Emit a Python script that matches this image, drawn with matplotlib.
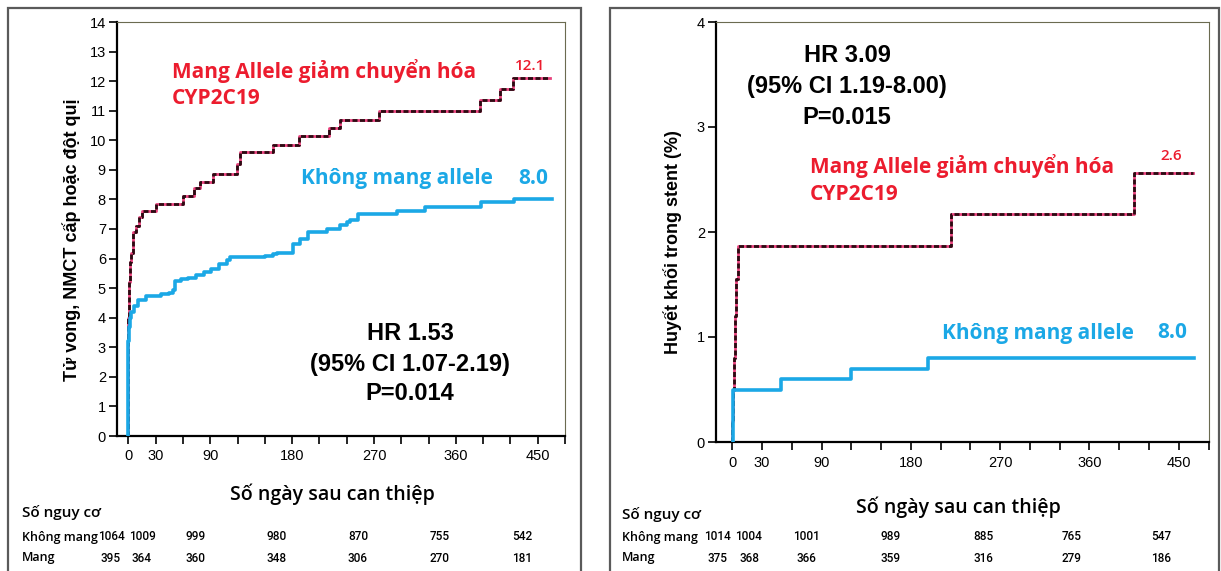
import matplotlib
matplotlib.use('Agg')
import matplotlib.pyplot as plt
from matplotlib.patches import Rectangle

W, H = 1221, 571

# ---- data: left panel (death / MI / stroke, %) ----
l_red_days = [0, 0.5, 1.5, 3, 5, 8, 12, 15, 30, 60, 72, 79, 93, 119, 123, 159, 188,
              220, 233, 275, 387, 408, 423, 463]
l_red_vals = [4.0, 5.2, 5.9, 6.2, 6.9, 7.1, 7.4, 7.6, 7.85, 8.1, 8.4, 8.6, 8.85, 9.2,
              9.6, 9.85, 10.15, 10.4, 10.7, 11.0, 11.35, 11.75, 12.1, 12.1]
l_blue_days = [0, 0.5, 1.5, 3, 6, 11, 19, 36, 45, 49, 51, 58, 66, 74, 83, 91, 100, 108,
               112, 150, 159, 163, 181, 189, 197, 218, 233, 240, 244, 252, 295, 326,
               388, 424, 466]
l_blue_vals = [3.2, 3.7, 4.0, 4.2, 4.4, 4.6, 4.75, 4.8, 4.85, 4.95, 5.25, 5.3, 5.35,
               5.45, 5.55, 5.65, 5.8, 5.95, 6.05, 6.1, 6.15, 6.2, 6.5, 6.65, 6.9, 7.0,
               7.15, 7.25, 7.3, 7.5, 7.62, 7.75, 7.9, 8.0, 8.0]

# ---- data: right panel (stent thrombosis, %) ----
r_red_days = [0, 1, 2, 3, 4, 6, 220, 405, 464]
r_red_vals = [0.2, 0.5, 0.8, 1.2, 1.55, 1.87, 2.17, 2.56, 2.56]
r_blue_days = [1, 49, 120, 197, 465]
r_blue_vals = [0.5, 0.6, 0.7, 0.8, 0.8]

tick_days = list(range(0, 481, 30))
label_days = [0, 30, 90, 180, 270, 360, 450]

l_risk_non = ['1064', '1009', '999', '980', '870', '755', '542']
l_risk_car = ['395', '364', '360', '348', '306', '270', '181']
r_risk_non = ['1014', '1004', '1001', '989', '885', '765', '547']
r_risk_car = ['375', '368', '366', '359', '316', '279', '186']

RED_TXT = '#ec1c2e'
BLUE = '#1ba8e6'
PINK = '#e8417c'
DARK = '#2b0b12'


def fx(px):
    return px / W


def fy(py):
    return 1 - py / H


def step_line(ax, days, vals, start_zero=True, dashed=False):
    xs = [days[0]] + list(days) if start_zero else list(days)
    ys = [0] + list(vals) if start_zero else list(vals)
    if dashed:
        ax.step(xs, ys, where='post', color=PINK, lw=2.0, zorder=3)
        ax.step(xs, ys, where='post', color=DARK, lw=2.0, dashes=(1.8, 0.9), zorder=4)
    else:
        ax.step(xs, ys, where='post', color=BLUE, lw=2.6, zorder=5)


def style_axes(ax, ymax, xpad):
    ax.set_ylim(0, ymax)
    ax.set_xticks(tick_days)
    ax.set_xticklabels([str(d) if d in label_days else '' for d in tick_days])
    ax.set_yticks(range(0, ymax + 1))
    ax.tick_params(axis='both', direction='out', length=6, width=1.2, color='black',
                   labelsize=10.5)
    ax.tick_params(axis='x', pad=xpad)
    ax.tick_params(axis='y', pad=2)
    for s in ['left', 'bottom']:
        ax.spines[s].set_linewidth(1.6)
        ax.spines[s].set_color('black')
    for s in ['top', 'right']:
        ax.spines[s].set_linewidth(0.8)
        ax.spines[s].set_color('#6b6b50')
    for lab in ax.get_xticklabels() + ax.get_yticklabels():
        lab.set_family('Liberation Sans')


fig = plt.figure(figsize=(12.21, 5.71), dpi=100)

# outer panel frames
for x0, x1 in [(8, 581), (610, 1219)]:
    fig.add_artist(Rectangle((fx(x0), fy(575)), fx(x1) - fx(x0), fy(8) - fy(575),
                             transform=fig.transFigure, fill=False,
                             edgecolor='#5a5a5a', lw=1.6))

# ---------------- left panel ----------------
ax1 = fig.add_axes([fx(117), fy(436), fx(565) - fx(117), fy(22) - fy(436)])
ax1.set_xlim(-12.6, 480)
style_axes(ax1, 14, 3)
step_line(ax1, l_red_days, l_red_vals, dashed=True)
step_line(ax1, l_blue_days, l_blue_vals)

fig.text(fx(72), fy(240), 'Tử vong, NMCT cấp hoặc đột quị', rotation=90,
         ha='center', va='center', fontsize=13, fontweight='bold', family='Liberation Sans')
fig.text(fx(172), fy(71), 'Mang Allele giảm chuyển hóa', color=RED_TXT, fontsize=15,
         fontweight='bold', family='Open Sans', va='center')
fig.text(fx(172), fy(99), 'CYP2C19', color=RED_TXT, fontsize=15,
         fontweight='bold', family='Open Sans', va='center')
fig.text(fx(530), fy(66), '12.1', color=RED_TXT, fontsize=11, family='Open Sans',
         fontweight='semibold', ha='center', va='center')
fig.text(fx(301), fy(179), 'Không mang allele', color=BLUE, fontsize=15,
         fontweight='bold', family='Open Sans', va='center')
fig.text(fx(533), fy(179), '8.0', color=BLUE, fontsize=15,
         fontweight='bold', family='Open Sans', ha='center', va='center')
for yy, s in [(333, 'HR 1.53'), (364, '(95% CI 1.07-2.19)'), (393, 'P=0.014')]:
    fig.text(fx(410), fy(yy), s, ha='center', va='center', fontsize=17,
             fontweight='bold', family='Liberation Sans')
fig.text(fx(332), fy(494), 'Số ngày sau can thiệp', ha='center', va='center',
         fontsize=14, fontweight='semibold', family='Open Sans')

# ---------------- right panel ----------------
ax2 = fig.add_axes([fx(716), fy(442), fx(1209) - fx(716), fy(22) - fy(442)])
ax2.set_xlim(-16.5, 480.5)
style_axes(ax2, 4, 4)
step_line(ax2, r_red_days, r_red_vals, dashed=True)
step_line(ax2, r_blue_days, r_blue_vals)

fig.text(fx(673), fy(242), 'Huyết khối trong stent (%)', rotation=90,
         ha='center', va='center', fontsize=13, fontweight='bold', family='Liberation Sans')
for yy, s in [(56, 'HR 3.09'), (87, '(95% CI 1.19-8.00)'), (117, 'P=0.015')]:
    fig.text(fx(847), fy(yy), s, ha='center', va='center', fontsize=17,
             fontweight='bold', family='Liberation Sans')
fig.text(fx(810), fy(166), 'Mang Allele giảm chuyển hóa', color=RED_TXT, fontsize=15,
         fontweight='bold', family='Open Sans', va='center')
fig.text(fx(810), fy(194), 'CYP2C19', color=RED_TXT, fontsize=15,
         fontweight='bold', family='Open Sans', va='center')
fig.text(fx(1171), fy(156), '2.6', color=RED_TXT, fontsize=11, family='Open Sans',
         fontweight='semibold', ha='center', va='center')
fig.text(fx(942), fy(333), 'Không mang allele', color=BLUE, fontsize=15,
         fontweight='bold', family='Open Sans', va='center')
fig.text(fx(1172), fy(333), '8.0', color=BLUE, fontsize=15,
         fontweight='bold', family='Open Sans', ha='center', va='center')
fig.text(fx(958), fy(507), 'Số ngày sau can thiệp', ha='center', va='center',
         fontsize=14, fontweight='semibold', family='Open Sans')

# ---------------- risk tables ----------------
tables = [
    (22, 512, [111, 142, 196, 277, 358, 440, 522], l_risk_non, l_risk_car),
    (622, 515, [717, 749, 806, 891, 983, 1072, 1161], r_risk_non, r_risk_car),
]
for x0, yhead, cols, non, car in tables:
    fig.text(fx(x0), fy(yhead), 'Số nguy cơ', fontsize=11, fontweight='semibold',
             family='Open Sans', va='center')
    fig.text(fx(x0), fy(537), 'Không mang', fontsize=9, fontweight='semibold',
             family='Open Sans', va='center')
    fig.text(fx(x0), fy(558), 'Mang', fontsize=9, fontweight='semibold',
             family='Open Sans', va='center')
    for cx, a, b in zip(cols, non, car):
        fig.text(fx(cx), fy(537), a, fontsize=8.5, ha='center', va='center',
                 family='Roboto', fontweight='medium')
        fig.text(fx(cx), fy(558), b, fontsize=8.5, ha='center', va='center',
                 family='Roboto', fontweight='medium')

fig.savefig('out.png', dpi=100)
